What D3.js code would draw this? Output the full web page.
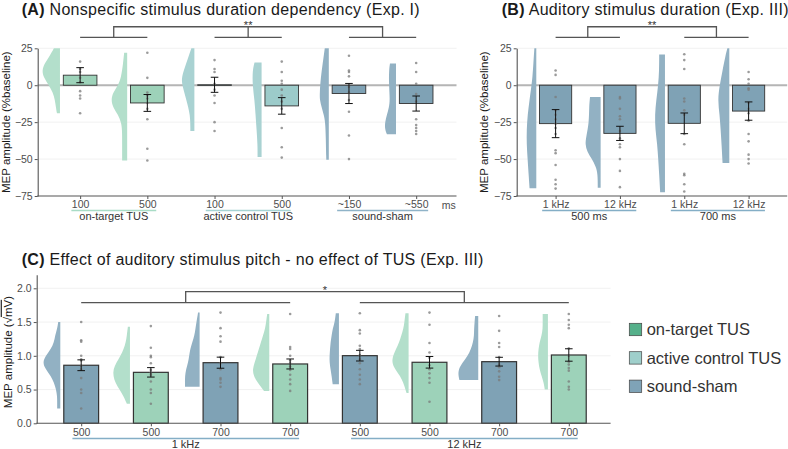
<!DOCTYPE html>
<html><head><meta charset="utf-8">
<script src="https://cdn.jsdelivr.net/npm/d3@7"></script>
<style>
body{margin:0;background:#fff;}
svg text{font-family:"Liberation Sans", Arial, sans-serif;}
</style></head><body>
<svg id="chart" width="788" height="449"></svg>
<script>
// ---------------- DATA ----------------
// Panel A
const aTicks = ["100","500","100","500","~150","~550"];
const aCondition = ["on","on","ac","ac","sh","sh"];
const aGroups = [{label:"on-target TUS", from:0, to:1, cond:"on"},
                 {label:"active control TUS", from:2, to:3, cond:"ac"},
                 {label:"sound-sham", from:4, to:5, cond:"sh"}];
const aMean = [6.8, -12.0, 0.3, -14.0, -5.6, -12.4];
const aSE = [5.1, 5.7, 5.1, 5.6, 6.8, 5.1];
const aPoints = [
  [16, 11, 9, 5, 2, -4, -7, -9, -19],
  [22, 5, -5, -7, -9, -12, -16, -23, -43, -51],
  [17, 11, 9, 1, -3, -7, -12, -25, -31],
  [16, 9, 3, 1, -3, -7, -11, -16, -29, -42, -49],
  [20, 10, 9, 6, -1, -5, -10, -18, -34, -50],
  [15, 9, 1, -6, -11, -23, -27, -29, -31, -33]
];
const aDensity = [
  [[25,6],[20,10],[15,15],[10,18],[5,16],[0,11],[-5,7],[-10,5],[-15,4],[-19,3]],
  [[22,3],[15,4],[5,6],[0,9],[-5,14],[-10,16],[-15,14],[-20,9],[-25,6],[-30,5],[-40,5],[-50,5],[-51,5]],
  [[25,3],[15,8],[5,13],[0,12],[-10,8],[-20,4],[-31,4]],
  [[15.4,7],[10,9],[0,9],[-10,7],[-20,6],[-30,5],[-40,4],[-48.6,4]],
  [[25,4],[15,6],[5,8],[-5,9],[-10,9],[-15,7],[-20,5],[-25,3.5],[-35,3],[-50.4,2.5]],
  [[14.7,6],[10,7],[0,7],[-10,6],[-15,7],[-20,9],[-25,11],[-30,11],[-33.2,9]]
];
const aYTicks = [25, 0, -25, -50, -75];

// Panel B
const bTicks = ["1 kHz","12 kHz","1 kHz","12 kHz"];
const bCondition = ["sh","sh","sh","sh"];
const bGroups = [{label:"500 ms", from:0, to:1, cond:"line"},
                 {label:"700 ms", from:2, to:3, cond:"line"}];
const bMean = [-26.0, -32.6, -25.8, -17.5];
const bSE = [9.5, 4.8, 7.0, 6.2];
const bPoints = [
  [10, 7, -8, -17, -20, -23, -26, -29, -33, -44, -46, -54, -64, -67, -70],
  [-8, -9, -16, -21, -23, -31, -36, -40, -42, -50, -58, -69],
  [21, 17, 11, -9, -11, -17, -20, -33, -40, -60, -61, -67, -72],
  [9, 4, 1, -2, -3, -12, -16, -19, -24, -33, -38, -47, -50, -53]
];
const bDensity = [
  [[25,2],[15,3],[5,4],[0,5],[-10,7],[-20,9],[-30,10],[-40,10],[-50,9],[-60,8],[-69.7,7]],
  [[-8,11],[-15,12],[-25,12],[-35,15],[-40,16],[-45,14],[-50,9],[-55,5],[-60,3],[-69.4,3]],
  [[20.8,6],[10,6],[0,7],[-10,9],[-20,10.5],[-30,10],[-40,8],[-50,7],[-60,6],[-72.4,5]],
  [[25,2],[20,4],[10,7],[0,10],[-10,12],[-20,10],[-30,9],[-40,8],[-52.7,7]]
];

// Panel C
const cTicks = ["500","500","700","700","500","500","700","700"];
const cCondition = ["sh","on","sh","on","sh","on","sh","on"];
const cGroups = [{label:"1 kHz", from:0, to:3, cond:"line"},
                 {label:"12 kHz", from:4, to:7, cond:"line"}];
const cMean = [0.86, 0.755, 0.898, 0.879, 1.002, 0.904, 0.913, 1.012];
const cSE = [0.08, 0.07, 0.082, 0.074, 0.079, 0.086, 0.065, 0.092];
const cPoints = [
  [1.5, 1.23, 1.21, 1.0, 0.95, 0.93, 0.85, 0.8, 0.67, 0.5, 0.45, 0.22],
  [1.44, 1.12, 1.0, 0.98, 0.89, 0.79, 0.75, 0.72, 0.62, 0.5, 0.45, 0.29],
  [1.64, 1.41, 1.29, 1.21, 0.98, 0.89, 0.8, 0.67, 0.65, 0.6, 0.54],
  [1.62, 1.13, 1.1, 1.0, 0.93, 0.89, 0.84, 0.79, 0.72, 0.65, 0.58, 0.48],
  [1.63, 1.38, 1.33, 1.15, 1.1, 1.01, 0.95, 0.89, 0.8, 0.72, 0.65, 0.58],
  [1.64, 1.46, 1.19, 1.05, 0.97, 0.86, 0.8, 0.74, 0.67, 0.6, 0.32],
  [1.59, 1.37, 1.19, 1.13, 0.98, 0.87, 0.83, 0.77, 0.69, 0.64],
  [1.62, 1.53, 1.46, 1.41, 1.11, 1.0, 0.91, 0.87, 0.82, 0.78, 0.62, 0.54, 0.5]
];
const cDensity = [
  [[1.5,2],[1.4,3],[1.3,5],[1.2,6],[1.1,9],[1.0,14],[0.9,17],[0.8,14],[0.7,9],[0.6,6],[0.5,4],[0.4,3],[0.3,3],[0.22,3]],
  [[1.43,2],[1.3,3],[1.2,4],[1.1,6],[1.0,9],[0.9,13],[0.8,16],[0.7,16],[0.6,14],[0.5,10],[0.4,6],[0.29,3]],
  [[1.64,1.5],[1.5,3],[1.4,4],[1.3,5],[1.2,7],[1.1,9],[1.0,10],[0.9,11],[0.8,13],[0.7,14],[0.6,14],[0.54,14]],
  [[1.62,2],[1.5,3],[1.4,4],[1.3,6],[1.2,8],[1.1,10],[1.0,12],[0.9,14],[0.8,16],[0.7,15],[0.6,11],[0.5,6],[0.48,5]],
  [[1.63,3],[1.5,4],[1.4,6],[1.3,7],[1.2,8],[1.1,8.5],[1.0,9],[0.9,9],[0.8,8],[0.7,7],[0.58,6]],
  [[1.63,3],[1.5,4],[1.4,5],[1.3,7],[1.2,9],[1.1,12],[1.0,15],[0.9,16],[0.8,13],[0.7,8],[0.6,5],[0.5,3],[0.45,2]],
  [[1.59,3],[1.5,3.5],[1.4,4],[1.3,4],[1.2,5],[1.1,7],[1.0,10],[0.9,15],[0.8,19],[0.7,19],[0.64,18]],
  [[1.62,5],[1.5,5],[1.4,5],[1.3,6],[1.2,8],[1.1,9],[1.0,9.5],[0.9,9],[0.8,8],[0.7,6],[0.6,4],[0.5,3]]
];
const cYTicks = [0, 0.5, 1.0, 1.5, 2.0];

// Legend
const legendLabels = ["on-target TUS", "active control TUS", "sound-sham"];
const legendConds = ["on", "ac", "sh"];

// ---------------- STYLE ----------------
const COL = {
  on: {bar:"#9dd2b9", vio:"#b3dfcb", line:"#a9dcc6", key:"#55b08a"},
  ac: {bar:"#9ccbca", vio:"#a9d2d2", line:"#a6d3d3", key:"#9fcfcb"},
  sh: {bar:"#7fa2b5", vio:"#92b1c3", line:"#8fb3c8", key:"#7fa3b7"},
  line: {line:"#84aec6"}
};
const svg = d3.select("#chart");

function drawPanel(cfg) {
  const g = svg.append("g");
  const n = cfg.cats.length;
  const x = d3.scaleLinear().domain([-0.6, n - 0.4]).range(cfg.xRange);
  const y = d3.scaleLinear().domain(cfg.yDomain).range(cfg.yRange);
  const step = x(1) - x(0);
  const w = d3.scaleLinear().domain([0, 20]).range([0, 0.3 * step]);
  const xEnd = cfg.xRange[1];

  // grid
  g.selectAll("line.grid").data(cfg.grid).join("line").attr("class","grid")
    .attr("x1", cfg.spineX).attr("x2", xEnd)
    .attr("y1", d => y(d)).attr("y2", d => y(d))
    .attr("stroke", "#ebebeb").attr("stroke-width", 0.7);
  if (cfg.zero) {
    g.append("line").attr("x1", cfg.spineX).attr("x2", xEnd)
      .attr("y1", y(0)).attr("y2", y(0))
      .attr("stroke", "#b5b5b5").attr("stroke-width", 2);
  }
  // violins
  cfg.density.forEach((dens, i) => {
    const edge = x(i) - 0.3 * step;
    const area = d3.area().curve(d3.curveBasis)
      .y(d => y(d[0])).x0(d => edge - w(d[1])).x1(edge);
    g.append("path").datum(dens).attr("d", area)
      .attr("fill", COL[cfg.cond[i]].vio);
  });
  // bars
  g.selectAll("rect.bar").data(cfg.mean).join("rect").attr("class","bar")
    .attr("x", (d, i) => x(i) - 0.25 * step).attr("width", 0.5 * step)
    .attr("y", d => y(Math.max(0, d)))
    .attr("height", d => Math.max(0.6, Math.abs(y(d) - y(0))))
    .attr("fill", (d, i) => COL[cfg.cond[i]].bar)
    .attr("stroke", "#333").attr("stroke-width", cfg.barStroke);
  // points
  cfg.points.forEach((pts, i) => {
    g.selectAll(null).data(pts).join("circle")
      .attr("cx", x(i)).attr("cy", d => y(d)).attr("r", 1.3)
      .attr("fill", "#7a7a7a").attr("fill-opacity", 0.75);
  });
  // error bars
  cfg.mean.forEach((m, i) => {
    const s = cfg.se[i], cx = x(i), hw = 3.8;
    const eg = g.append("g").attr("stroke", "#111").attr("stroke-width", 1);
    eg.append("line").attr("x1", cx).attr("x2", cx).attr("y1", y(m + s)).attr("y2", y(m - s));
    eg.append("line").attr("x1", cx - hw).attr("x2", cx + hw).attr("y1", y(m + s)).attr("y2", y(m + s));
    eg.append("line").attr("x1", cx - hw).attr("x2", cx + hw).attr("y1", y(m - s)).attr("y2", y(m - s));
  });

  // axes
  const yAxis = d3.axisLeft(y).tickValues(cfg.yTicks).tickFormat(cfg.yFmt)
    .tickSize(3).tickSizeOuter(0).tickPadding(2);
  const ya = g.append("g").attr("transform", `translate(${cfg.spineX},0)`).call(yAxis);
  const xAxis = d3.axisBottom(x).tickValues(d3.range(n)).tickFormat(i => cfg.cats[i])
    .tickSize(3).tickSizeOuter(0).tickPadding(2);
  const xa = g.append("g").attr("transform", `translate(0,${cfg.yRange[0]})`).call(xAxis);
  xa.select(".domain").remove();
  g.append("line").attr("x1", cfg.spineX - 0.5).attr("x2", xEnd)
    .attr("y1", cfg.yRange[0]).attr("y2", cfg.yRange[0])
    .attr("stroke", "#555").attr("stroke-width", 1.1);
  [ya, xa].forEach(a => {
    a.selectAll("text").attr("font-size", 10.5).attr("fill", "#4d4d4d")
      .attr("font-family", '"Liberation Sans", Arial, sans-serif');
    a.selectAll("line").attr("stroke", "#555");
    a.select(".domain").attr("stroke", "#555").attr("stroke-width", 1.1);
  });

  // group underline + labels (span tick label extents)
  const tickNodes = xa.selectAll(".tick text").nodes();
  cfg.groups.forEach(gr => {
    const b0 = tickNodes[gr.from].getBBox(), b1 = tickNodes[gr.to].getBBox();
    const x0 = x(gr.from) + b0.x, x1 = x(gr.to) + b1.x + b1.width;
    g.append("line").attr("x1", x0).attr("x2", x1)
      .attr("y1", cfg.groupLineY).attr("y2", cfg.groupLineY)
      .attr("stroke", COL[gr.cond].line).attr("stroke-width", 1.6);
    g.append("text").attr("x", (x0 + x1) / 2).attr("y", cfg.groupLabelY)
      .attr("text-anchor", "middle").attr("font-size", 11).attr("fill", "#333")
      .text(gr.label);
  });

  // significance brackets
  const br = cfg.bracket;
  const lineCol = "#555";
  const mids = br.pairs.map(p => (x(p[0]) + x(p[1])) / 2);
  br.pairs.forEach(p => {
    g.append("line").attr("x1", x(p[0])).attr("x2", x(p[1]))
      .attr("y1", y(br.low)).attr("y2", y(br.low))
      .attr("stroke", lineCol).attr("stroke-width", 1.3);
  });
  const xl = d3.min(mids), xr = d3.max(mids);
  g.append("path")
    .attr("d", `M${xl},${y(br.low)}V${y(br.high)}H${xr}V${y(br.low)}`)
    .attr("fill", "none").attr("stroke", lineCol).attr("stroke-width", 1.3);
  mids.forEach(mx => {
    if (mx > xl + 1 && mx < xr - 1) {
      g.append("line").attr("x1", mx).attr("x2", mx).attr("y1", y(br.high)).attr("y2", y(br.low))
        .attr("stroke", lineCol).attr("stroke-width", 1.3);
    }
  });
  g.append("text").attr("x", (xl + xr) / 2).attr("y", y(br.high) + 2)
    .attr("text-anchor", "middle").attr("font-size", 11).attr("fill", "#333").text(br.label);

  // title
  const t = g.append("text").attr("x", cfg.titleX).attr("y", cfg.titleY)
    .attr("font-size", 16).attr("letter-spacing", 0.3).attr("fill", "#1a1a1a");
  t.append("tspan").attr("font-weight", "bold").text(cfg.titleTag);
  t.append("tspan").text(" " + cfg.title);

  // y title
  const yt = g.append("text")
    .attr("transform", `translate(${cfg.yTitleX},${(cfg.yRange[0] + cfg.yRange[1]) / 2 + (cfg.yTitleShift||0)}) rotate(-90)`)
    .attr("text-anchor", "middle").attr("font-size", 11.5).attr("fill", "#1a1a1a");
  cfg.yTitle(yt);
  return {x, y, g};
}

// Panel A
const pA = drawPanel({
  cats: aTicks, cond: aCondition, mean: aMean, se: aSE, points: aPoints, density: aDensity,
  groups: aGroups, xRange: [39.8, 456.5], spineX: 37.7, yDomain: [-75, 25], yRange: [196, 48.3],
  yTicks: aYTicks, yFmt: d3.format("d"), grid: [25, -25, -50], zero: true, barStroke: 0.9,
  groupLineY: 210.5, groupLabelY: 220,
  bracket: {pairs: [[0,1],[2,3],[4,5]], low: 32.4, high: 39.6, label: "**"},
  titleX: 21.7, titleY: 15, titleTag: "(A)", title: "Nonspecific stimulus duration dependency (Exp. I)",
  yTitleX: 10, yTitle: t => t.text("MEP amplitude (%baseline)")
});
pA.g.append("text").attr("x", 441.7).attr("y", 208.5).attr("font-size", 10.5)
  .attr("fill", "#4d4d4d").text("ms");

// Panel B
drawPanel({
  cats: bTicks, cond: bCondition, mean: bMean, se: bSE, points: bPoints, density: bDensity,
  groups: bGroups, xRange: [517, 787.2], spineX: 516.7, yDomain: [-75, 25], yRange: [196, 48.3],
  yTicks: aYTicks, yFmt: d3.format("d"), grid: [25, -25, -50], zero: true, barStroke: 0.9,
  groupLineY: 210.5, groupLabelY: 220,
  bracket: {pairs: [[0,1],[2,3]], low: 32.4, high: 39.6, label: "**"},
  titleX: 501.7, titleY: 15, titleTag: "(B)", title: "Auditory stimulus duration (Exp. III)",
  yTitleX: 488, yTitle: t => t.text("MEP amplitude (%baseline)")
});

// Panel C
drawPanel({
  cats: cTicks, cond: cCondition, mean: cMean, se: cSE, points: cPoints, density: cDensity,
  groups: cGroups, xRange: [39.4, 610.6], spineX: 36.7, yDomain: [0, 2.2], yRange: [423.3, 274.8],
  yTicks: cYTicks, yFmt: d3.format(".1f"), grid: [0.5, 1.0, 1.5, 2.0], zero: false, barStroke: 1.2,
  groupLineY: 438.5, groupLabelY: 448,
  bracket: {pairs: [[0,3],[4,7]], low: 1.787, high: 1.95, label: "*"},
  titleX: 21.7, titleY: 264.5, titleTag: "(C)", title: "Effect of auditory stimulus pitch - no effect of TUS (Exp. III)",
  yTitleX: 11.7, yTitleShift: 3,
  yTitle: t => {
    t.append("tspan").text("MEP amplitude (");
    t.append("tspan").text("\u221A");
    t.append("tspan").style("text-decoration", "overline").text("mV");
    t.append("tspan").text(")");
  }
});

// Legend
const lg = svg.append("g").attr("transform", "translate(629.3,323.3)");
legendLabels.forEach((lab, i) => {
  const row = lg.append("g").attr("transform", `translate(0,${i * 28.4})`);
  row.append("rect").attr("width", 12.4).attr("height", 12.4)
    .attr("fill", COL[legendConds[i]].key).attr("stroke", "#444").attr("stroke-width", 0.7);
  row.append("text").attr("x", 17.4).attr("y", 6.2).attr("dy", "0.36em")
    .attr("font-size", 16.5).attr("fill", "#333").text(lab);
});
</script>
</body></html>
